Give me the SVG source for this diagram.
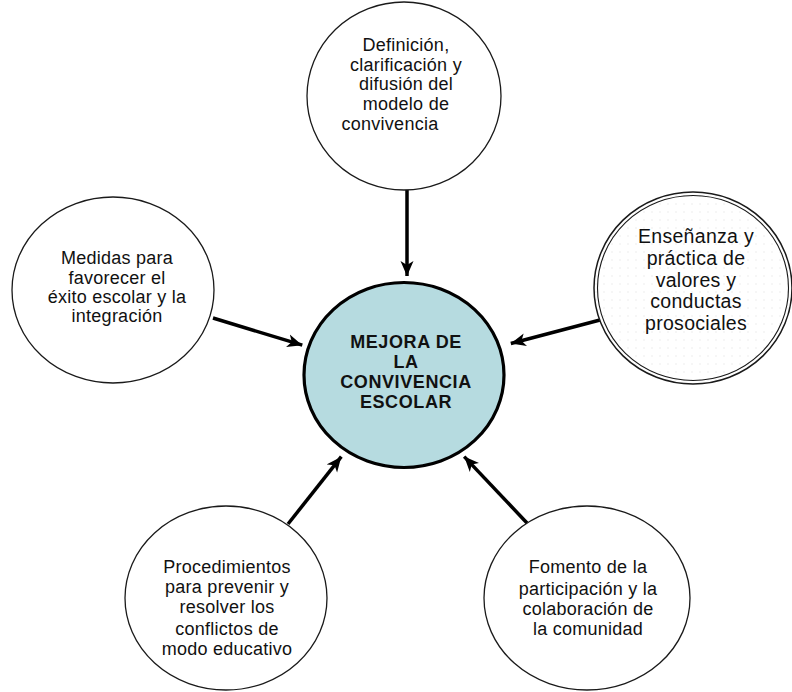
<svg xmlns="http://www.w3.org/2000/svg" width="792" height="692" viewBox="0 0 792 692">
  <style>
    .node { fill: #ffffff; stroke: #1a1a1a; stroke-width: 1.3; }
    .t { font-family: "Liberation Sans", Arial, sans-serif; font-size: 18px; letter-spacing: 0.25px; fill: #111; text-anchor: middle; }
    .tb { font-family: "Liberation Sans", Arial, sans-serif; font-size: 18px; font-weight: bold; letter-spacing: 0.6px; fill: #111; text-anchor: middle; }
    .tr { font-family: "Liberation Sans", Arial, sans-serif; font-size: 19.5px; letter-spacing: 0.3px; fill: #111; text-anchor: middle; }
    .conn { stroke: #000; stroke-width: 3.5; fill: none; marker-end: url(#arrow); }
  </style>
  <defs>
    <marker id="arrow" markerUnits="userSpaceOnUse" markerWidth="17" markerHeight="14" refX="15" refY="6.5" orient="auto" viewBox="0 0 17 13">
      <path d="M0,0 L15,6.5 L0,13 L4,6.5 Z" fill="#000"/>
    </marker>
    <pattern id="dots" width="8" height="8" patternUnits="userSpaceOnUse">
      <rect width="8" height="8" fill="#ffffff"/>
      <circle cx="4" cy="4" r="0.7" fill="#e6e6e6"/>
    </pattern>
  </defs>

  <rect width="792" height="692" fill="#ffffff"/>

  <g id="connectors">
    <line class="conn" x1="407" y1="190" x2="407" y2="276"/>
    <line class="conn" x1="213" y1="318" x2="302.3" y2="345.2"/>
    <line class="conn" x1="600" y1="320" x2="510.8" y2="343.5"/>
    <line class="conn" x1="288" y1="524" x2="341.3" y2="456.7"/>
    <line class="conn" x1="527" y1="523" x2="464.2" y2="456.6"/>
  </g>

  <g id="node-top">
    <ellipse class="node" cx="404" cy="96" rx="97" ry="94"/>
    <text class="t" x="406" y="51">Definición,</text>
    <text class="t" x="406" y="71">clarificación y</text>
    <text class="t" x="406" y="90">difusión del</text>
    <text class="t" x="406" y="110">modelo de</text>
    <text class="t" x="390" y="130">convivencia</text>
  </g>

  <g id="node-left">
    <ellipse class="node" cx="113" cy="290" rx="101" ry="93"/>
    <text class="t" x="117" y="264">Medidas para</text>
    <text class="t" x="117" y="284">favorecer el</text>
    <text class="t" x="117" y="303">éxito escolar y la</text>
    <text class="t" x="117" y="322">integración</text>
  </g>

  <g id="node-right">
    <ellipse cx="693" cy="288" rx="99" ry="96" fill="url(#dots)" stroke="#1a1a1a" stroke-width="1.5"/>
    <ellipse cx="693" cy="288" rx="95.5" ry="92.5" fill="none" stroke="#1a1a1a" stroke-width="1.1"/>
    <text class="tr" x="696" y="243">Enseñanza y</text>
    <text class="tr" x="696" y="265">práctica de</text>
    <text class="tr" x="696" y="287">valores y</text>
    <text class="tr" x="696" y="308">conductas</text>
    <text class="tr" x="696" y="330">prosociales</text>
  </g>

  <g id="node-center">
    <ellipse cx="404" cy="375" rx="100" ry="92.5" fill="#b6dbe0" stroke="#000" stroke-width="3.2"/>
    <text class="tb" x="406" y="348">MEJORA DE</text>
    <text class="tb" x="406" y="368">LA</text>
    <text class="tb" x="406" y="388">CONVIVENCIA</text>
    <text class="tb" x="406" y="408">ESCOLAR</text>
  </g>

  <g id="node-bottom-left">
    <ellipse class="node" cx="226" cy="598" rx="101" ry="92"/>
    <text class="t" x="227" y="573">Procedimientos</text>
    <text class="t" x="227" y="593">para prevenir y</text>
    <text class="t" x="227" y="613">resolver los</text>
    <text class="t" x="227" y="635">conflictos de</text>
    <text class="t" x="227" y="655">modo educativo</text>
  </g>

  <g id="node-bottom-right">
    <ellipse class="node" cx="587" cy="598" rx="103" ry="92"/>
    <text class="t" x="588" y="573">Fomento de la</text>
    <text class="t" x="588" y="595">participación y la</text>
    <text class="t" x="588" y="615">colaboración de</text>
    <text class="t" x="588" y="635">la comunidad</text>
  </g>
</svg>
